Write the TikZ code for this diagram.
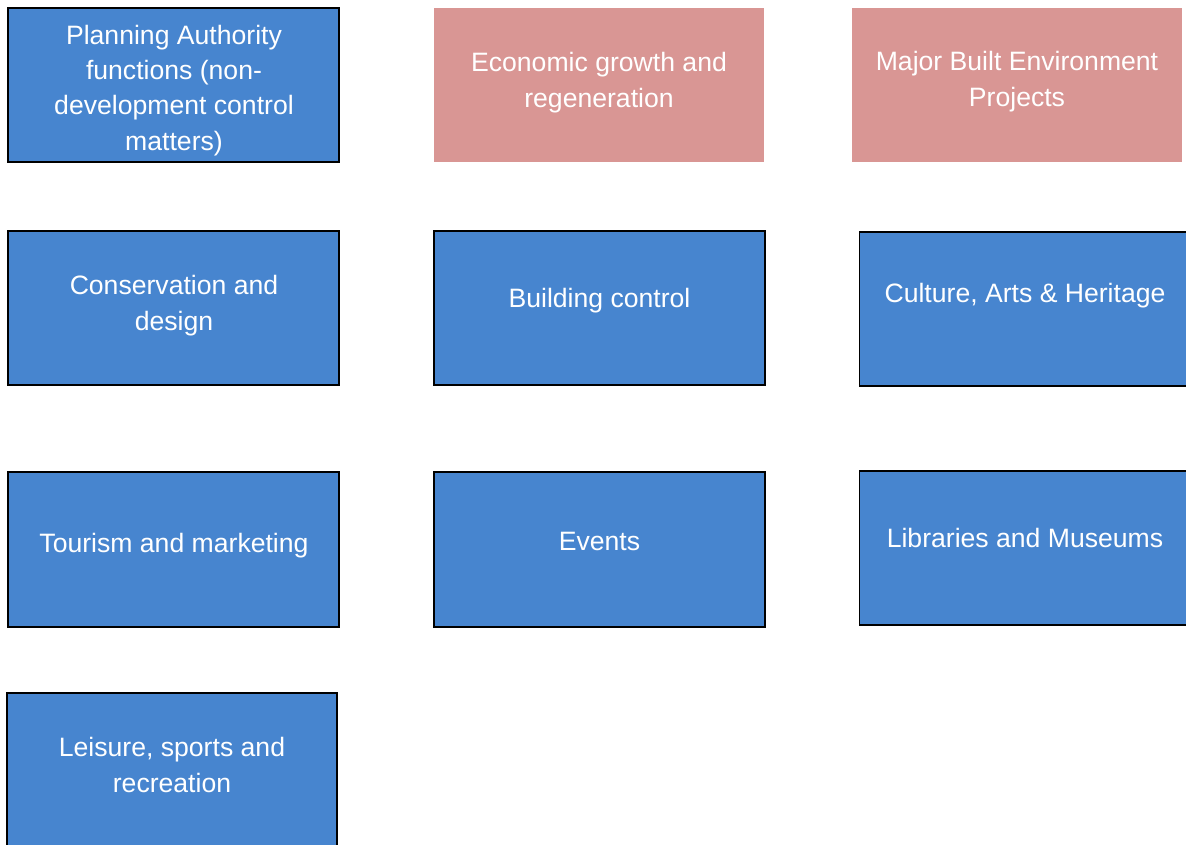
\documentclass[tikz,border=0pt]{standalone}
\usepackage{fontspec}
\setmainfont{Liberation Sans}
\definecolor{boxblue}{RGB}{71,133,207}
\definecolor{boxpink}{RGB}{217,150,148}
\begin{document}
\begin{tikzpicture}[x=1pt,y=-1pt,
  bluebox/.style={draw=black,line width=1.5pt,fill=boxblue},
  pinkbox/.style={fill=boxpink},
  lbl/.style={text=white,align=center,anchor=base,inner sep=0pt,
    font=\fontsize{26.6}{35.3}\selectfont}]
\useasboundingbox (0,0) rectangle (1186,844);
\clip (0,0) rectangle (1186,844);
% row 1
\node[bluebox,minimum width=331pt,minimum height=154pt,inner sep=0pt] (plan) at (173.5,85) {};
\node[pinkbox,minimum width=330pt,minimum height=154pt,inner sep=0pt] (econ) at (599,85) {};
\node[pinkbox,minimum width=330pt,minimum height=154pt,inner sep=0pt] (major) at (1017,85) {};
% row 2
\node[bluebox,minimum width=331pt,minimum height=154pt,inner sep=0pt] (cons) at (173.5,308) {};
\node[bluebox,minimum width=331pt,minimum height=154pt,inner sep=0pt] (build) at (599.5,308) {};
\node[bluebox,minimum width=331pt,minimum height=154pt,inner sep=0pt] (cult) at (1025,309) {};
% row 3
\node[bluebox,minimum width=331pt,minimum height=155pt,inner sep=0pt] (tour) at (173.5,549.5) {};
\node[bluebox,minimum width=331pt,minimum height=155pt,inner sep=0pt] (events) at (599.5,549.5) {};
\node[bluebox,minimum width=331pt,minimum height=154pt,inner sep=0pt] (libs) at (1025,548) {};
% row 4
\node[bluebox,minimum width=330pt,minimum height=154pt,inner sep=0pt] (leis) at (172,770) {};
% labels (anchored on the baseline of their last line)
\node[lbl] (plant) at (174,150) {Planning Authority\\functions (non-\\development control\\matters)};
\node[lbl] (econt) at (599,107) {Economic growth and\\regeneration};
\node[lbl] (majort) at (1017,106) {Major Built Environment\\Projects};
\node[lbl] (const) at (174,330) {Conservation and\\design};
\node[lbl] (buildt) at (599.5,307) {Building control};
\node[lbl] (cultt) at (1025,302) {Culture, Arts \& Heritage};
\node[lbl] (tourt) at (174,552) {Tourism and marketing};
\node[lbl] (eventst) at (599.5,550) {Events};
\node[lbl] (libst) at (1025,547) {Libraries and Museums};
\node[lbl] (leist) at (172,792) {Leisure, sports and\\recreation};
\end{tikzpicture}
\end{document}
